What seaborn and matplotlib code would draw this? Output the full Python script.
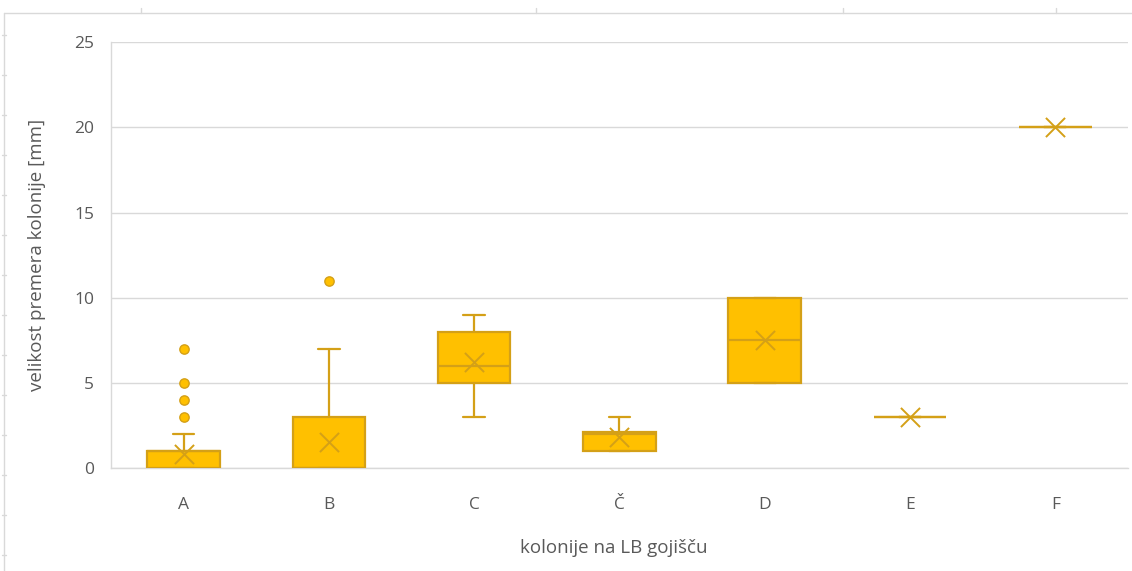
import matplotlib
matplotlib.use("Agg")
import matplotlib.pyplot as plt
import seaborn as sns
import pandas as pd
from matplotlib.lines import Line2D

# Colony diameter summaries per colony type on LB medium
categories = ["A", "B", "C", "Č", "D", "E", "F"]
q1 = [0, 0, 5, 1, 5, 3, 20]
median = [1, 0, 6, 2, 7.5, 3, 20]
q3 = [1, 3, 8, 2.1, 10, 3, 20]
whisker_low = [0, 0, 3, 1, 5, 3, 20]
whisker_high = [2, 7, 9, 3, 10, 3, 20]
mean = [0.8, 1.5, 6.2, 1.8, 7.5, 3, 20]
outliers = [[3, 4, 5, 7], [11], [], [], [], [], []]

y_ticks = [0, 5, 10, 15, 20, 25]

FILL = "#FFC000"
EDGE = "#D4A017"
TEXT = "#595959"
GRID = "#D9D9D9"

sns.set_theme(style="white")
plt.rcParams["font.family"] = ["Open Sans", "DejaVu Sans"]

fig = plt.figure(figsize=(11.32, 5.71), dpi=100)
ax = fig.add_axes([0.098, 0.1804, 0.8984, 0.7456])

stats = []
for i, c in enumerate(categories):
    stats.append(dict(label=c, q1=q1[i], med=median[i], q3=q3[i],
                      whislo=whisker_low[i], whishi=whisker_high[i],
                      mean=mean[i], fliers=[]))

ax.bxp(stats, positions=range(len(categories)), widths=0.5, capwidths=0.15,
       showmeans=False, showfliers=False, patch_artist=True,
       boxprops=dict(facecolor=FILL, edgecolor=EDGE, linewidth=1.6),
       medianprops=dict(color=EDGE, linewidth=1.6),
       whiskerprops=dict(color=EDGE, linewidth=1.6),
       capprops=dict(color=EDGE, linewidth=1.6), zorder=3)

# Mean markers
mean_df = pd.DataFrame({"pos": range(len(categories)), "mean": mean})
sns.scatterplot(data=mean_df, x="pos", y="mean", marker="x", s=190,
                color=EDGE, linewidth=1.4, ax=ax, zorder=4)

# Outlier points
out_df = pd.DataFrame([(i, v) for i, vals in enumerate(outliers) for v in vals],
                      columns=["pos", "value"])
sns.scatterplot(data=out_df, x="pos", y="value", marker="o", s=45,
                color=FILL, edgecolor=EDGE, linewidth=1.0, ax=ax, zorder=4)

ax.set_xlim(-0.5, len(categories) - 0.5)
ax.set_ylim(0, 25)
ax.set_yticks(y_ticks)
ax.set_xticks(range(len(categories)))
ax.set_xticklabels(categories)
ax.yaxis.grid(True, color=GRID, linewidth=1.0, zorder=0)
ax.set_axisbelow(True)
for side in ["top", "right"]:
    ax.spines[side].set_visible(False)
for side in ["left", "bottom"]:
    ax.spines[side].set_color(GRID)
    ax.spines[side].set_linewidth(1.0)
ax.tick_params(axis="both", length=0, labelsize=12.5, colors=TEXT, pad=12)
ax.tick_params(axis="x", pad=21)
ax.set_xlabel("kolonije na LB gojišču", fontsize=13.5, color=TEXT)
ax.set_ylabel("velikost premera kolonije [mm]", fontsize=13.5, color=TEXT)
ax.xaxis.set_label_coords((614 - 111) / (1128 - 111), -(548 - 468) / (468 - 42),
                          transform=ax.transAxes)
ax.xaxis.label.set_va("center")
ax.yaxis.set_label_coords(-(111 - 37) / (1128 - 111), 0.5, transform=ax.transAxes)
ax.yaxis.label.set_va("center")

# Outer frame lines with small marks along the top and left edges
W, H = 1132, 571
frame_y = 1 - 13 / H
frame_x = 4 / W
fig.add_artist(Line2D([frame_x, 1], [frame_y, frame_y], transform=fig.transFigure,
                      color=GRID, linewidth=1.0))
fig.add_artist(Line2D([frame_x, frame_x], [0, frame_y], transform=fig.transFigure,
                      color=GRID, linewidth=1.0))
for px in [141, 536, 843, 1056]:
    fig.add_artist(Line2D([px / W, px / W], [frame_y, 1 - 8 / H],
                          transform=fig.transFigure, color=GRID, linewidth=1.0))
for py in range(35, 571, 40):
    fig.add_artist(Line2D([frame_x - 2 / W, frame_x + 2 / W], [1 - py / H, 1 - py / H],
                          transform=fig.transFigure, color=GRID, linewidth=1.0))

fig.savefig("out.png", dpi=100)
